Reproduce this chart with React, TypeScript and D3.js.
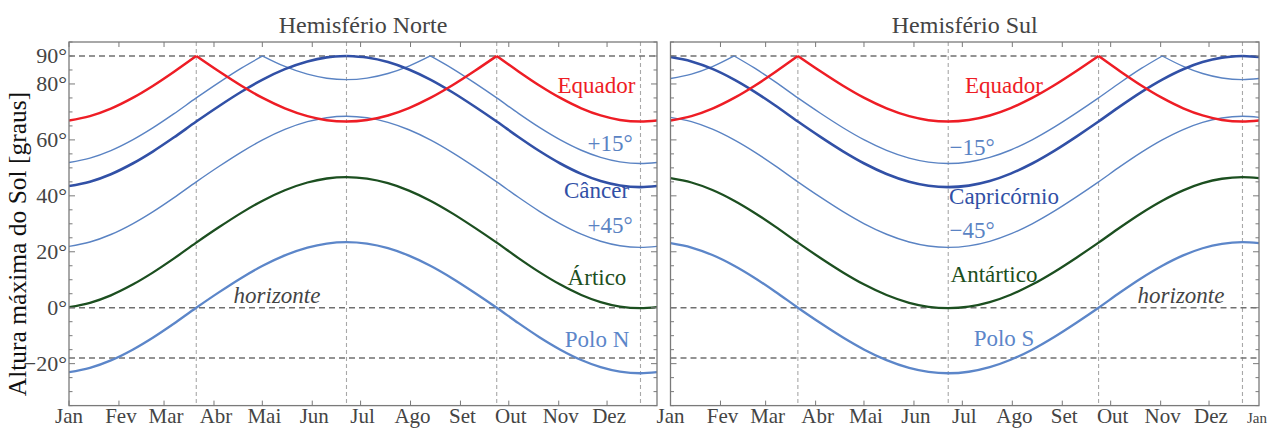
import React from "react";
import * as d3 from "d3";

// Day of year (0 = 1 Jan) at which each value is sampled
const DAYS = [0, 13, 26, 39.5, 52, 65, 79, 93, 107, 120.2, 134, 148, 160, 172.25, 185, 198, 211, 224.3, 238, 252, 265.5, 279, 292, 305, 318, 330, 342, 354.75, 365];

// Hemisfério Norte – noon altitude in degrees
const EQUADOR_N = [66.94, 68.49, 71.17, 75.0, 79.28, 84.28, 90, 84.52, 79.35, 75.0, 71.27, 68.49, 67.06, 66.56, 67.1, 68.73, 71.38, 75.0, 79.53, 84.72, 90, 84.48, 79.46, 75.0, 71.3, 68.75, 67.15, 66.56, 66.94];
const MAIS15 = [51.94, 53.49, 56.17, 60.0, 64.28, 69.28, 75.0, 80.48, 85.65, 90.0, 86.27, 83.49, 82.06, 81.56, 82.1, 83.73, 86.38, 90.0, 85.47, 80.28, 75.0, 69.48, 64.46, 60.0, 56.3, 53.75, 52.15, 51.56, 51.94];
const CANCER = [43.5, 45.05, 47.73, 51.56, 55.84, 60.84, 66.56, 72.04, 77.21, 81.56, 85.29, 88.07, 89.5, 90.0, 89.46, 87.83, 85.18, 81.56, 77.03, 71.84, 66.56, 61.04, 56.02, 51.56, 47.86, 45.31, 43.71, 43.12, 43.5];
const MAIS45 = [21.94, 23.49, 26.17, 30.0, 34.28, 39.28, 45, 50.48, 55.65, 60.0, 63.73, 66.51, 67.94, 68.44, 67.9, 66.27, 63.62, 60.0, 55.47, 50.28, 45, 39.48, 34.46, 30.0, 26.3, 23.75, 22.15, 21.56, 21.94];
const ARTICO = [0.2, 1.75, 4.43, 8.26, 12.54, 17.54, 23.26, 28.74, 33.91, 38.26, 41.99, 44.77, 46.2, 46.7, 46.16, 44.53, 41.88, 38.26, 33.73, 28.54, 23.26, 17.74, 12.72, 8.26, 4.56, 2.01, 0.41, -0.18, 0.2];
const POLO_N = [-23.06, -21.51, -18.83, -15.0, -10.72, -5.72, 0, 5.48, 10.65, 15.0, 18.73, 21.51, 22.94, 23.44, 22.9, 21.27, 18.62, 15.0, 10.47, 5.28, 0, -5.52, -10.54, -15.0, -18.7, -21.25, -22.85, -23.44, -23.06];

// Hemisfério Sul
const EQUADOR_S = EQUADOR_N;
const MENOS15 = [81.94, 83.49, 86.17, 90.0, 85.72, 80.72, 75, 69.52, 64.35, 60.0, 56.27, 53.49, 52.06, 51.56, 52.1, 53.73, 56.38, 60.0, 64.53, 69.72, 75, 80.52, 85.54, 90.0, 86.3, 83.75, 82.15, 81.56, 81.94];
const CAPRICORNIO = [89.62, 88.07, 85.39, 81.56, 77.28, 72.28, 66.56, 61.08, 55.91, 51.56, 47.83, 45.05, 43.62, 43.12, 43.66, 45.29, 47.94, 51.56, 56.09, 61.28, 66.56, 72.08, 77.1, 81.56, 85.26, 87.81, 89.41, 90.0, 89.62];
const MENOS45 = [68.06, 66.51, 63.83, 60.0, 55.72, 50.72, 45, 39.52, 34.35, 30.0, 26.27, 23.49, 22.06, 21.56, 22.1, 23.73, 26.38, 30.0, 34.53, 39.72, 45, 50.52, 55.54, 60.0, 63.7, 66.25, 67.85, 68.44, 68.06];
const ANTARTICO = [46.32, 44.77, 42.09, 38.26, 33.98, 28.98, 23.26, 17.78, 12.61, 8.26, 4.53, 1.75, 0.32, -0.18, 0.36, 1.99, 4.64, 8.26, 12.79, 17.98, 23.26, 28.78, 33.8, 38.26, 41.96, 44.51, 46.11, 46.7, 46.32];
const POLO_S = [23.06, 21.51, 18.83, 15.0, 10.72, 5.72, 0, -5.48, -10.65, -15.0, -18.73, -21.51, -22.94, -23.44, -22.9, -21.27, -18.62, -15.0, -10.47, -5.28, 0, 5.52, 10.54, 15.0, 18.7, 21.25, 22.85, 23.44, 23.06];

const MONTH_STARTS = [0, 31, 59, 90, 120, 151, 181, 212, 243, 273, 304, 334];
const MONTH_LABELS = ["Jan", "Fev", "Mar", "Abr", "Mai", "Jun", "Jul", "Ago", "Set", "Out", "Nov", "Dez"];
const SEASON_DAYS = [79, 172.25, 265.5, 354.75];
const REF_ALTITUDES = [90, 0, -18];
const Y_TICK_VALUES = [90, 80, 60, 40, 20, 0, -20];
const Y_DOMAIN = [-35, 95];
const X_DOMAIN = [0, 365];

const RED = "#ee1d25";
const LIGHT_BLUE = "#5a83c3";
const DARK_BLUE = "#3150a6";
const POLE_BLUE = "#5c86c9";
const GREEN = "#1c4f20";

const FONT = "'Liberation Serif', 'Times New Roman', serif";
const GRAY_TEXT = "#444";
const FRAME = "#7a7a7a";

const panels = [
  {
    title: "Hemisfério Norte",
    x0: 69,
    x1: 657,
    showY: true,
    endJan: false,
    series: [
      { vals: POLO_N, color: POLE_BLUE, w: 2.3 },
      { vals: ARTICO, color: GREEN, w: 2.3 },
      { vals: MAIS45, color: LIGHT_BLUE, w: 1.4 },
      { vals: MAIS15, color: LIGHT_BLUE, w: 1.4 },
      { vals: CANCER, color: DARK_BLUE, w: 2.6 },
      { vals: EQUADOR_N, color: RED, w: 2.5 },
    ],
    labels: [
      { t: "Equador", x: 596.5, y: 93, c: RED },
      { t: "+15°", x: 610, y: 151, c: LIGHT_BLUE },
      { t: "Câncer", x: 596.5, y: 198, c: DARK_BLUE },
      { t: "+45°", x: 610, y: 233, c: LIGHT_BLUE },
      { t: "Ártico", x: 597, y: 285, c: GREEN },
      { t: "Polo N", x: 597, y: 347, c: POLE_BLUE },
      { t: "horizonte", x: 277, y: 303, c: GRAY_TEXT, italic: true },
    ],
  },
  {
    title: "Hemisfério Sul",
    x0: 670.5,
    x1: 1259,
    showY: false,
    endJan: true,
    series: [
      { vals: POLO_S, color: POLE_BLUE, w: 2.3 },
      { vals: ANTARTICO, color: GREEN, w: 2.3 },
      { vals: MENOS45, color: LIGHT_BLUE, w: 1.4 },
      { vals: MENOS15, color: LIGHT_BLUE, w: 1.4 },
      { vals: CAPRICORNIO, color: DARK_BLUE, w: 2.6 },
      { vals: EQUADOR_S, color: RED, w: 2.5 },
    ],
    labels: [
      { t: "Equador", x: 1004, y: 93, c: RED },
      { t: "−15°", x: 972, y: 155, c: LIGHT_BLUE },
      { t: "Capricórnio", x: 1004, y: 204, c: DARK_BLUE },
      { t: "−45°", x: 972, y: 238, c: LIGHT_BLUE },
      { t: "Antártico", x: 994, y: 282, c: GREEN },
      { t: "Polo S", x: 1004, y: 346, c: POLE_BLUE },
      { t: "horizonte", x: 1181, y: 303, c: GRAY_TEXT, italic: true },
    ],
  },
];

const TOP = 42;
const BOTTOM = 405.6;

function splitAtPeaks(vals: number[]): [number, number][][] {
  const segs: [number, number][][] = [];
  let cur: [number, number][] = [];
  vals.forEach((v, i) => {
    cur.push([DAYS[i], v]);
    if (v >= 90 && i > 0 && i < vals.length - 1) {
      segs.push(cur);
      cur = [[DAYS[i], v]];
    }
  });
  segs.push(cur);
  return segs;
}

function Panel({ p, idx }: { p: any; idx: number }) {
  const x = d3.scaleLinear().domain(X_DOMAIN).range([p.x0, p.x1]);
  const y = d3.scaleLinear().domain(Y_DOMAIN).range([BOTTOM, TOP]);
  const line = d3
    .line<[number, number]>()
    .x((d) => x(d[0]))
    .y((d) => y(d[1]))
    .curve(d3.curveMonotoneX);
  const minor = d3.range(-35, 96, 5);
  const clipId = `clip${idx}`;
  return (
    <g>
      <defs>
        <clipPath id={clipId}>
          <rect x={p.x0} y={TOP} width={p.x1 - p.x0} height={BOTTOM - TOP} />
        </clipPath>
      </defs>
      <text x={(p.x0 + p.x1) / 2} y={33} textAnchor="middle" fontSize={24} fill={GRAY_TEXT} fontFamily={FONT}>
        {p.title}
      </text>
      {SEASON_DAYS.map((d) => (
        <line key={"v" + d} x1={x(d)} x2={x(d)} y1={TOP} y2={BOTTOM} stroke="#a8a8a8" strokeWidth={1.1} strokeDasharray="4,3" />
      ))}
      {REF_ALTITUDES.map((a) => (
        <line key={"h" + a} x1={p.x0} x2={p.x1} y1={y(a)} y2={y(a)} stroke="#707070" strokeWidth={1.5} strokeDasharray="6,4" />
      ))}
      <g clipPath={`url(#${clipId})`}>
        {p.series.map((s: any, i: number) =>
          splitAtPeaks(s.vals).map((seg, j) => (
            <path key={i + "-" + j} d={line(seg) || ""} fill="none" stroke={s.color} strokeWidth={s.w} strokeLinejoin="miter" />
          ))
        )}
      </g>
      <rect x={p.x0} y={TOP} width={p.x1 - p.x0} height={BOTTOM - TOP} fill="none" stroke={FRAME} strokeWidth={1.3} />
      {MONTH_STARTS.map((m) => (
        <g key={"xt" + m}>
          <line x1={x(m)} x2={x(m)} y1={BOTTOM} y2={BOTTOM - 5} stroke={FRAME} strokeWidth={1} />
          <line x1={x(m)} x2={x(m)} y1={TOP} y2={TOP + 5} stroke={FRAME} strokeWidth={1} />
        </g>
      ))}
      {MONTH_STARTS.map((m, i) => (
        <text key={"xl" + m} x={x(m) + (i === 0 ? 0 : 2)} y={423} textAnchor="middle" fontSize={21} fill={GRAY_TEXT} fontFamily={FONT}>
          {MONTH_LABELS[i]}
        </text>
      ))}
      {p.endJan && (
        <text x={x(365) - 2} y={423} textAnchor="middle" fontSize={15} fill={GRAY_TEXT} fontFamily={FONT}>
          Jan
        </text>
      )}
      {minor.map((v) => {
        const major = v % 20 === 0;
        const len = major ? 6 : 3.5;
        return (
          <g key={"yt" + v}>
            <line x1={p.x0} x2={p.x0 + len} y1={y(v)} y2={y(v)} stroke={FRAME} strokeWidth={1} />
            <line x1={p.x1} x2={p.x1 - len} y1={y(v)} y2={y(v)} stroke={FRAME} strokeWidth={1} />
          </g>
        );
      })}
      {p.showY &&
        Y_TICK_VALUES.map((v) => (
          <text key={"yl" + v} x={p.x0 - 2} y={y(v) + 7.5} textAnchor="end" fontSize={22} fill={GRAY_TEXT} fontFamily={FONT}>
            {(v < 0 ? "−" + Math.abs(v) : String(v)) + "°"}
          </text>
        ))}
      {p.labels.map((l: any) => (
        <text key={l.t} x={l.x} y={l.y} textAnchor="middle" fontSize={23} fill={l.c} fontFamily={FONT} fontStyle={l.italic ? "italic" : "normal"}>
          {l.t}
        </text>
      ))}
    </g>
  );
}

export default function App() {
  return (
    <svg width={1271} height={428} style={{ position: "absolute", left: 0, top: 0, background: "#fff" }}>
      <rect x={0} y={0} width={1271} height={428} fill="#fff" />
      <text transform={`translate(26,244) rotate(-90)`} textAnchor="middle" fontSize={25.5} fill="#111" fontFamily={FONT}>
        Altura máxima do Sol [graus]
      </text>
      {panels.map((p, i) => (
        <Panel key={i} p={p} idx={i} />
      ))}
    </svg>
  );
}
